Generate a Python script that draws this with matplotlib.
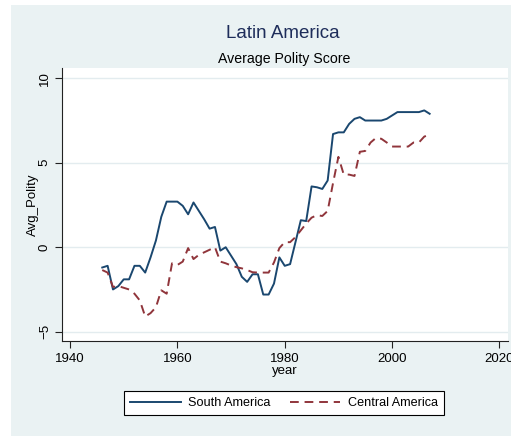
import matplotlib
matplotlib.use("Agg")
import matplotlib.pyplot as plt
from matplotlib.patches import Rectangle

plt.rcParams['font.family'] = ['Liberation Sans', 'DejaVu Sans']

years = list(range(1946, 2008))

south_america = [-1.2, -1.1, -2.5, -2.3, -1.9, -1.9, -1.1, -1.1, -1.5, -0.6,
                 0.4, 1.8, 2.7, 2.7, 2.7, 2.45, 1.95, 2.65, 2.15, 1.65,
                 1.1, 1.2, -0.2, 0.0, -0.5, -1.0, -1.75, -2.05, -1.6, -1.6,
                 -2.8, -2.8, -2.15, -0.6, -1.1, -1.0, 0.3, 1.6, 1.55, 3.6,
                 3.55, 3.45, 3.95, 6.7, 6.8, 6.8, 7.3, 7.6, 7.7, 7.5,
                 7.5, 7.5, 7.5, 7.6, 7.8, 8.0, 8.0, 8.0, 8.0, 8.0,
                 8.1, 7.9]

central_america = [-1.35, -1.5, -2.35, -2.3, -2.4, -2.5, -2.75, -3.15, -4.1, -3.9,
                   -3.55, -2.55, -2.75, -0.95, -1.05, -0.85, -0.05, -0.7, -0.45, -0.3,
                   -0.15, 0.0, -0.85, -0.95, -1.08, -1.18, -1.25, -1.35, -1.48, -1.5,
                   -1.5, -1.5, -0.9, -0.05, 0.3, 0.3, 0.6, 1.0, 1.4, 1.75,
                   1.9, 1.85, 2.15, 3.8, 5.35, 4.3, 4.3, 4.22, 5.65, 5.7,
                   6.2, 6.47, 6.42, 6.2, 5.96, 5.96, 5.96, 5.96, 6.2, 6.2,
                   6.55, 6.67]

x_ticks = [1940, 1960, 1980, 2000, 2020]
y_ticks = [-5, 0, 5, 10]

W, H = 511, 436
fig = plt.figure(figsize=(W / 100, H / 100), dpi=100, facecolor='white')
# stata-like grey backdrop (image is cropped with a thin white margin left/top)
fig.patches.append(Rectangle((11 / W, 0), 1, 1 - 5 / H, transform=fig.transFigure,
                             facecolor='#eaf2f3', edgecolor='none', zorder=-10))

ax = fig.add_axes([62 / W, 1 - 341 / H, (508 - 62) / W, (341 - 68) / H])
ax.set_facecolor('white')

ax.plot(years, south_america, color='#1a476f', lw=1.4, label='South America')
ax.plot(years, central_america, color='#90353b', lw=1.4, dashes=(4.5, 3),
        label='Central America')

ax.set_xlim(1938.5, 2021.6)
ax.set_ylim(-5.55, 10.61)
ax.set_xticks(x_ticks)
ax.set_yticks(y_ticks)
ax.grid(axis='y', color='#e3ecef', lw=1.0)
ax.set_axisbelow(True)

for s in ['top', 'right']:
    ax.spines[s].set_visible(False)
for s in ['left', 'bottom']:
    ax.spines[s].set_color('#222222')
    ax.spines[s].set_linewidth(0.8)

ax.tick_params(direction='out', length=5, width=0.8, color='#222222',
               labelsize=9.5, labelcolor='black')
ax.tick_params(axis='y', pad=3)
for lbl in ax.get_yticklabels():
    lbl.set_rotation(90)
    lbl.set_va('center')

ax.set_xlabel('year', fontsize=9.5, labelpad=0)
ax.set_ylabel('Avg_Polity', fontsize=9.5, labelpad=0)

fig.text(283 / W, 1 - 33 / H, 'Latin America', ha='center', va='center',
         fontsize=13.5, color='#1e2d5a')
fig.text(284 / W, 1 - 59 / H, 'Average Polity Score', ha='center', va='center',
         fontsize=10.2, color='black')

leg = ax.legend(loc='center', bbox_to_anchor=(284 / W, 1 - 403 / H),
                bbox_transform=fig.transFigure, ncol=2, fontsize=9.1,
                frameon=True, fancybox=False, edgecolor='black', framealpha=1,
                handlelength=4, handletextpad=0.6, columnspacing=1.5,
                borderpad=0.5)
leg.get_frame().set_linewidth(0.8)

fig.savefig('out.png', dpi=100, facecolor=fig.get_facecolor())
